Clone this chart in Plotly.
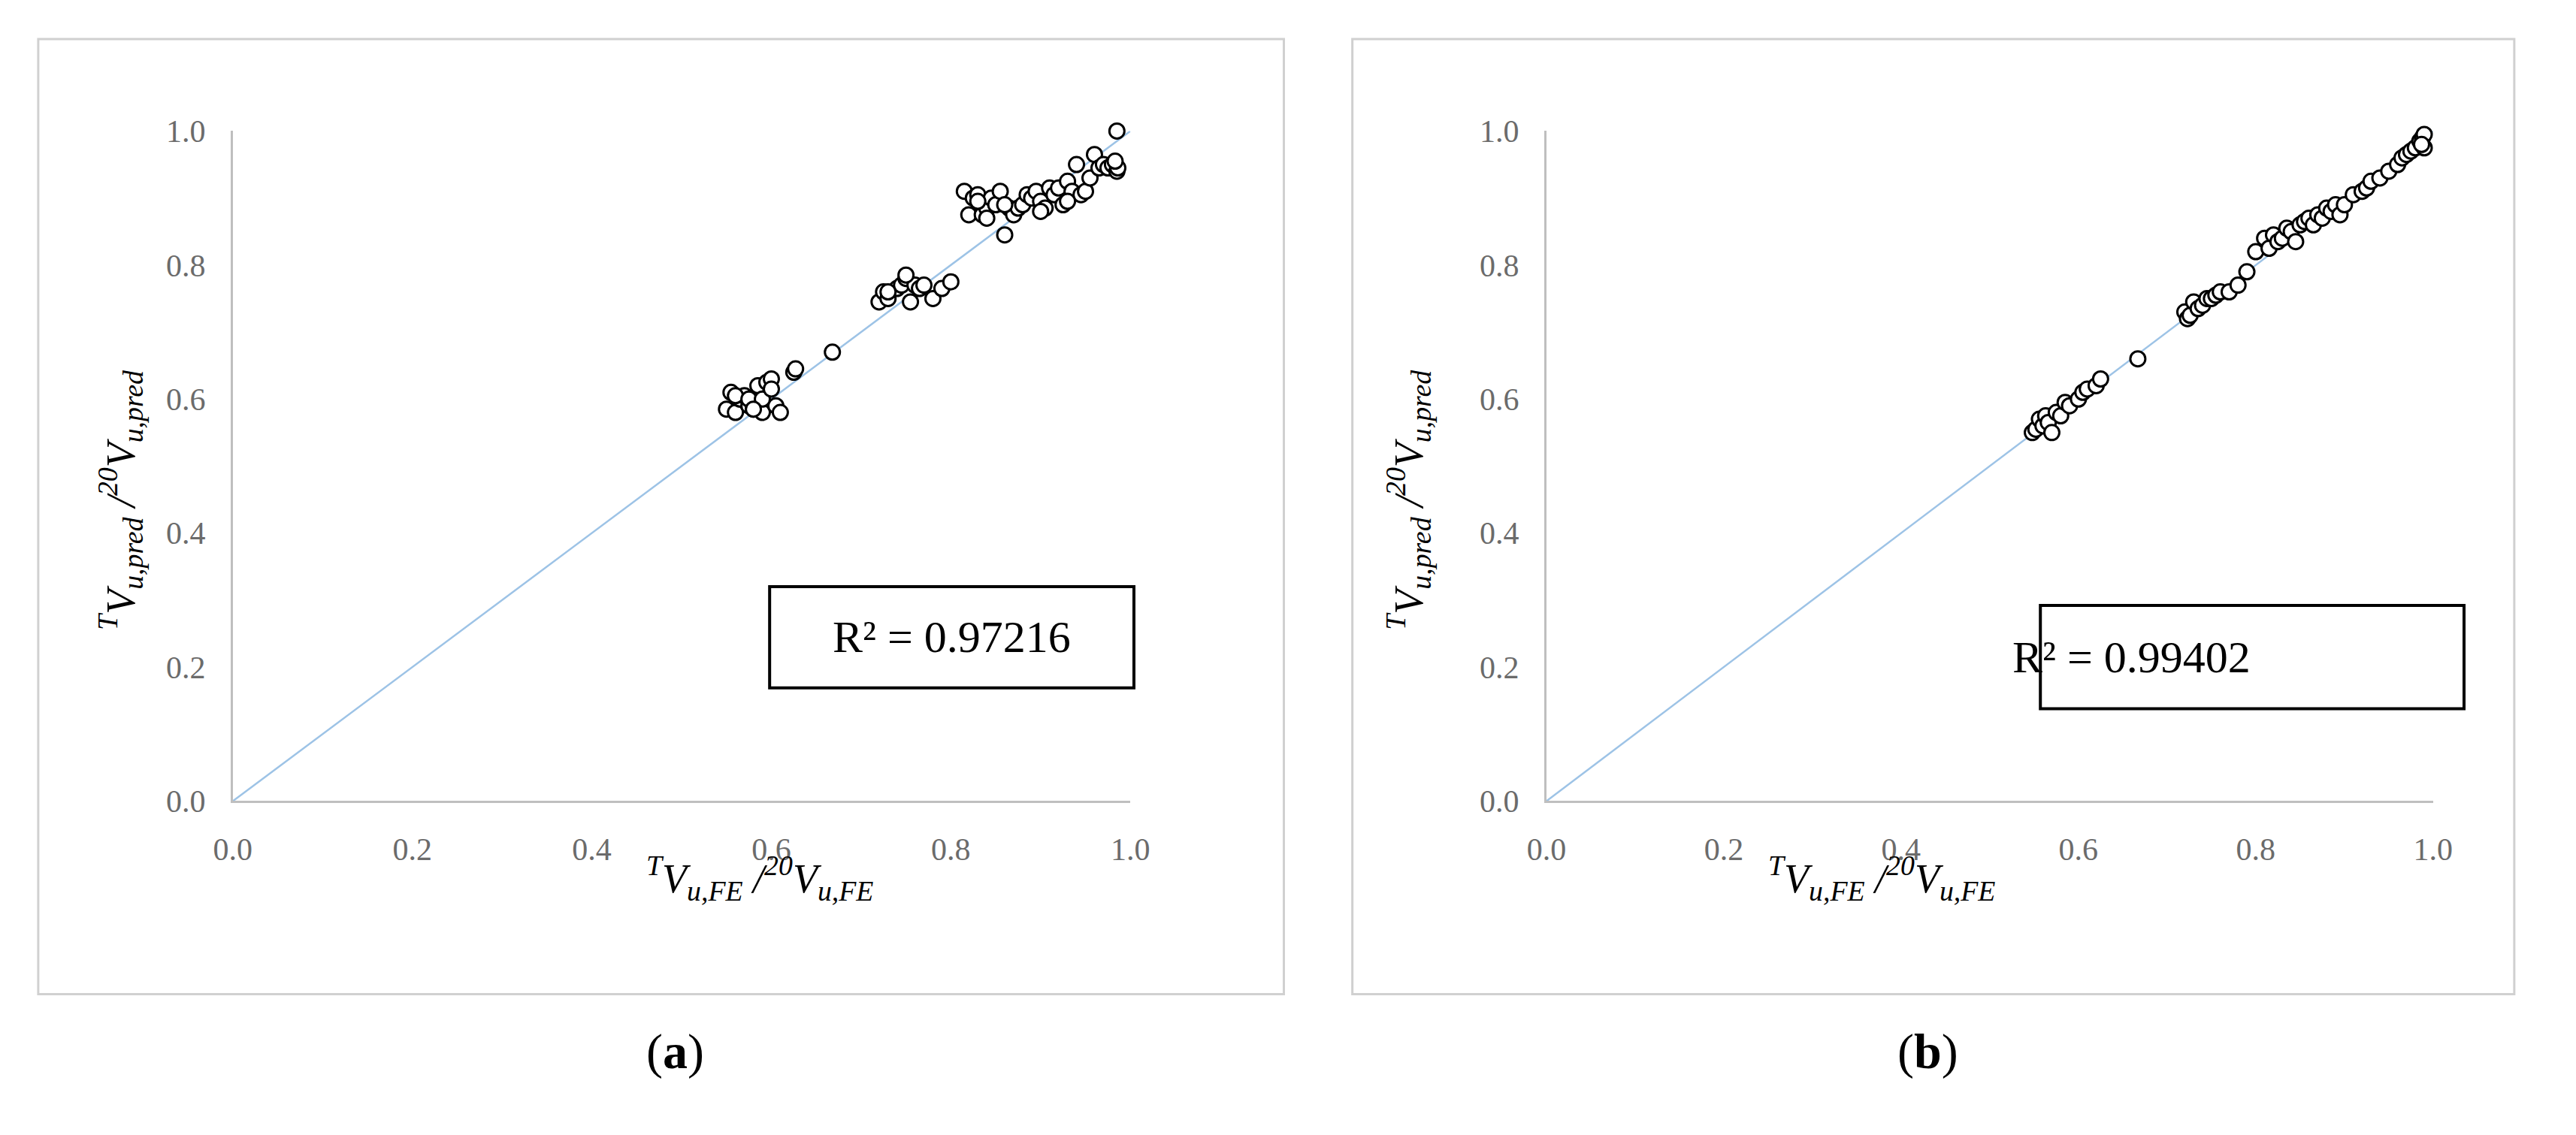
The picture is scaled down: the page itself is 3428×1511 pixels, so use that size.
import plotly.graph_objects as go

a_x = [0.55,0.555,0.56,0.565,0.57,0.575,0.58,0.585,0.59,0.595,0.60,0.605,0.61,0.56,0.575,0.59,0.58,0.6,
       0.625,0.627,0.668,
       0.72,0.725,0.73,0.74,0.745,0.75,0.755,0.76,0.765,0.77,0.78,0.79,0.80,0.75,0.73,
       0.815,0.82,0.825,0.83,0.835,0.84,0.845,0.85,0.855,0.86,0.865,0.87,0.875,0.88,0.885,0.89,0.895,0.90,0.905,0.91,
       0.915,0.92,0.925,0.93,0.935,0.94,0.945,0.95,0.955,0.96,0.965,0.97,0.975,0.98,0.985,0.985,0.986,0.983,0.84,0.83,0.86,0.9,0.93]
a_y = [0.585,0.61,0.58,0.6,0.605,0.59,0.585,0.62,0.58,0.625,0.63,0.59,0.58,0.605,0.6,0.6,0.585,0.615,
       0.64,0.645,0.67,
       0.745,0.76,0.75,0.765,0.77,0.78,0.745,0.77,0.765,0.77,0.75,0.765,0.775,0.785,0.76,
       0.91,0.875,0.9,0.905,0.875,0.885,0.9,0.89,0.91,0.845,0.885,0.875,0.885,0.89,0.905,0.9,0.91,0.895,0.885,0.915,
       0.905,0.915,0.89,0.925,0.91,0.95,0.905,0.91,0.93,0.965,0.945,0.95,0.945,0.95,1.0,0.94,0.945,0.955,0.87,0.895,0.89,0.88,0.895]
b_x = [0.548,0.552,0.556,0.56,0.563,0.566,0.57,0.575,0.58,0.585,0.59,0.60,0.605,0.61,0.62,0.625,0.667,
       0.72,0.723,0.726,0.73,0.735,0.74,0.745,0.75,0.755,0.76,0.77,0.78,0.79,
       0.80,0.81,0.815,0.82,0.825,0.83,0.835,0.84,0.845,0.85,0.855,0.86,0.865,0.87,0.875,0.88,0.885,0.89,0.895,0.90,
       0.91,0.92,0.925,0.93,0.94,0.95,0.96,0.965,0.97,0.975,0.98,0.985,0.988,0.99,0.99,0.987]
b_y = [0.55,0.555,0.57,0.56,0.575,0.565,0.55,0.58,0.575,0.595,0.59,0.6,0.61,0.615,0.62,0.63,0.66,
       0.73,0.72,0.725,0.745,0.735,0.74,0.75,0.75,0.755,0.76,0.76,0.77,0.79,
       0.82,0.84,0.825,0.845,0.835,0.84,0.855,0.85,0.835,0.86,0.865,0.87,0.86,0.875,0.87,0.885,0.88,0.89,0.875,0.89,
       0.905,0.91,0.915,0.925,0.93,0.94,0.95,0.96,0.965,0.97,0.975,0.985,0.99,0.975,0.995,0.98]
line_x = [0, 1]
line_y = [0, 1]
ticks = [0.0, 0.2, 0.4, 0.6, 0.8, 1.0]
tick_text = ["0.0", "0.2", "0.4", "0.6", "0.8", "1.0"]
r2_labels = ["R² = 0.97216", "R² = 0.99402"]
panel_labels = ["(<b>a</b>)", "(<b>b</b>)"]

fig = go.Figure()
for i, (xs, ys) in enumerate([(a_x, a_y), (b_x, b_y)]):
    xa = "x" if i == 0 else "x2"
    ya = "y" if i == 0 else "y2"
    fig.add_trace(go.Scatter(x=line_x, y=line_y, mode="lines", xaxis=xa, yaxis=ya,
                             line=dict(color="#9DC3E6", width=2.5), showlegend=False))
    fig.add_trace(go.Scatter(x=xs, y=ys, mode="markers", xaxis=xa, yaxis=ya, cliponaxis=False,
                             marker=dict(size=20, color="white", line=dict(color="black", width=3)),
                             showlegend=False))

ax = dict(range=[0, 1], tickvals=ticks, ticktext=tick_text, showgrid=False, zeroline=False,
          showline=True, linecolor="#BFBFBF", linewidth=3, ticks="",
          tickfont=dict(family="Liberation Serif", size=42, color="#6b6b6b"))
fig.update_layout(
    width=3428, height=1511, margin=dict(l=0, r=0, t=0, b=0),
    paper_bgcolor="white", plot_bgcolor="white",
    xaxis=dict(domain=[0.0817, 0.4355], anchor="y", ticklabelstandoff=25, **ax),
    yaxis=dict(domain=[0.2925, 0.9014], anchor="x", ticklabelstandoff=25, **ax),
    xaxis2=dict(domain=[0.5995, 0.949], anchor="y2", ticklabelstandoff=25, **ax),
    yaxis2=dict(domain=[0.2925, 0.9014], anchor="x2", ticklabelstandoff=25, **ax),
)

frames = [(0.005, 0.496), (0.523, 0.981)]
for (x0, x1) in frames:
    fig.add_shape(type="rect", xref="paper", yref="paper", x0=x0, x1=x1, y0=0.117, y1=0.985,
                  line=dict(color="#D0D0D0", width=3), layer="below")

boxes = [(0.2933, 0.4369, 0.3954, 0.4873), (0.7942, 0.9612, 0.3765, 0.4703)]
for i, (x0, x1, y0, y1) in enumerate(boxes):
    fig.add_shape(type="rect", xref="paper", yref="paper", x0=x0, x1=x1, y0=y0, y1=y1,
                  line=dict(color="black", width=4), fillcolor="white")
    fig.add_annotation(xref="paper", yref="paper", x=(x0 + x1) / 2, y=(y0 + y1) / 2, text=r2_labels[i],
                       showarrow=False, font=dict(family="Liberation Serif", size=60, color="black"))

xt = "<i><sup>T</sup>V<sub>u,FE</sub> /<sup>20</sup>V<sub>u,FE</sub></i>"
yt = "<i><sup>T</sup>V<sub>u,pred</sub> /<sup>20</sup>V<sub>u,pred</sub></i>"
for cx, yx in [(0.244, 0.0255), (0.777, 0.545)]:
    fig.add_annotation(xref="paper", yref="paper", x=cx, y=0.195, text=xt, showarrow=False,
                       font=dict(family="Liberation Serif", size=54, color="black"))
    fig.add_annotation(xref="paper", yref="paper", x=yx, y=0.566, text=yt, showarrow=False, textangle=-90,
                       font=dict(family="Liberation Serif", size=54, color="black"))
for i, px in enumerate([0.244, 0.7625]):
    fig.add_annotation(xref="paper", yref="paper", x=px, y=0.038, text=panel_labels[i], showarrow=False,
                       font=dict(family="Liberation Serif", size=66, color="black"))

fig.write_html("out.html")
